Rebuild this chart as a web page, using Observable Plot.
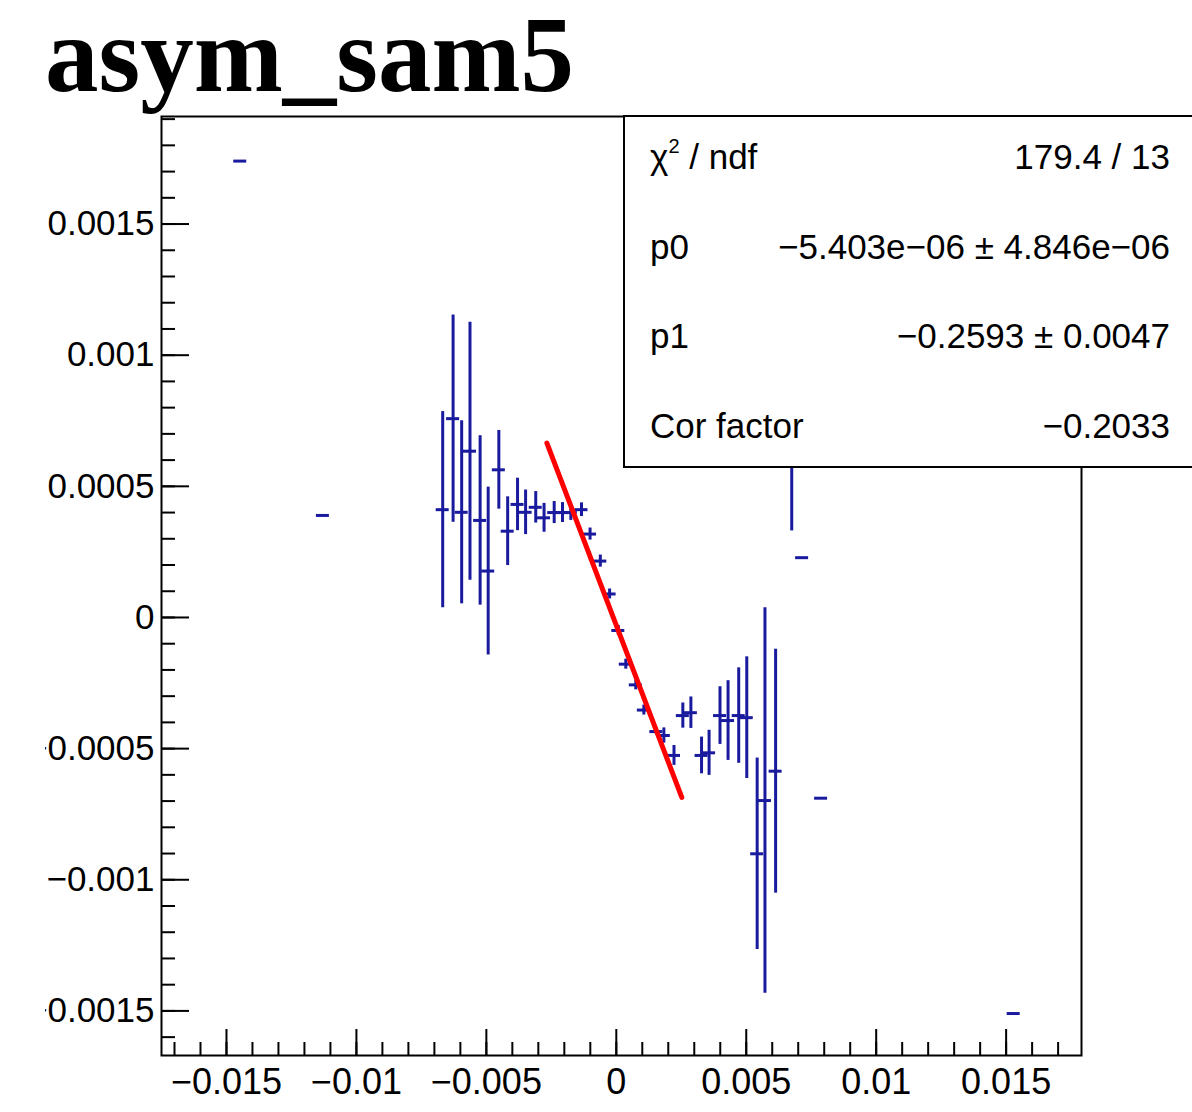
<!DOCTYPE html>
<html><head><meta charset="utf-8">
<script src="https://cdn.jsdelivr.net/npm/d3@7"></script>
<script src="https://cdn.jsdelivr.net/npm/@observablehq/plot@0.6"></script>
<style>
html,body{margin:0;padding:0;background:#fff;}
#wrap{position:relative;width:1192px;height:1112px;overflow:hidden;background:#fff;}
#title{position:absolute;left:45px;top:2px;font-family:"Liberation Serif","Times New Roman",serif;font-weight:bold;font-size:107px;line-height:107px;white-space:nowrap;color:#000;}
#chart{position:absolute;left:45px;top:0;}
#stats{position:absolute;left:623px;top:115px;width:620px;height:349px;border:2px solid #000;background:#fff;font-family:"Liberation Sans",Arial,sans-serif;font-size:35px;color:#000;}
.row{position:absolute;left:25px;width:520px;height:88px;display:flex;justify-content:space-between;align-items:center;white-space:nowrap;}
sup{font-size:20px;vertical-align:top;position:relative;top:-2px;}
</style>
</head><body>
<div id="wrap">
  <div id="chart"></div>
  <div id="title"></div>
  <div id="stats"></div>
</div>
<script>
// ---- data ----
const titleText = "asym_sam5";
const xVals = [-0.01447, -0.01129, -0.00668, -0.00628, -0.00595, -0.00563, -0.00524, -0.00493, -0.00452, -0.00418,
  -0.0038, -0.00349, -0.0031, -0.00278, -0.00239, -0.00207, -0.00175, -0.00134, -0.00101, -0.000615,
  -0.000258, 0.000077, 0.000365, 0.00075, 0.00106, 0.00154, 0.00183, 0.00222, 0.00256, 0.00287,
  0.00328, 0.00357, 0.00399, 0.0043, 0.00471, 0.00502, 0.00542, 0.00572, 0.00613, 0.00675,
  0.00715, 0.00788, 0.01529];
const yVals = [0.00174, 0.000389, 0.000411, 0.000758, 0.000401, 0.000634, 0.00037, 0.000177, 0.000563, 0.000329,
  0.000431, 0.000401, 0.00042, 0.00038, 0.0004, 0.0004, 0.0004, 0.000411, 0.000318, 0.000215,
  0.0000896, -0.0000496, -0.000178, -0.000257, -0.000353, -0.000435, -0.00045, -0.000526, -0.000374, -0.000363,
  -0.000526, -0.000516, -0.000374, -0.000393, -0.000374, -0.000382, -0.000901, -0.000698, -0.000586, 0.00072,
  0.000228, -0.000689, -0.00151];
const yErrs = [0, 0, 0.000374, 0.000395, 0.000349, 0.000492, 0.000323, 0.00032, 0.00015, 0.000131,
  0.0001, 0.000085, 0.00006, 0.000055, 0.000042, 0.000038, 0.00003, 0.000026, 0.000023, 0.000023,
  0.000019, 0.000019, 0.000019, 0.000019, 0.000019, 0.000011, 0.000029, 0.000038, 0.000048, 0.00006,
  0.00007, 0.000086, 0.00011, 0.000152, 0.000182, 0.000232, 0.000365, 0.000735, 0.000465, 0.00039,
  0, 0, 0];
const xErr = 0.00025;
const fitX = [-0.00267, 0.00252];
const fitY = [0.000665, -0.000686];
const xTickLabels = [-0.015, -0.01, -0.005, 0, 0.005, 0.01, 0.015];
const yTickLabels = [-0.0015, -0.001, -0.0005, 0, 0.0005, 0.001, 0.0015];
const xMinorTicks = d3.range(-17, 18).map(i => i / 1000);
const yMinorTicks = d3.range(-16, 20).map(i => i / 10000);
const statLabels = ["χ<sup>2</sup> / ndf", "p0", "p1", "Cor factor"];
const statValues = ["179.4 / 13", "−5.403e−06 ± 4.846e−06", "−0.2593 ± 0.0047", "−0.2033"];

// ---- build ----
const pts = xVals.map((x, i) => ({x, y: yVals[i], ey: yErrs[i]}));
const fit = fitX.map((x, i) => ({x, y: fitY[i]}));
const fmt = v => v === 0 ? "0" : (v < 0 ? "−" : "") + String(Math.abs(v));
const blue = "#1a1a9e";

const plot = Plot.plot({
  width: 1147, height: 1112,
  marginLeft: 116, marginRight: 111, marginTop: 116, marginBottom: 57,
  x: {domain: [-0.0175, 0.0179], label: null},
  y: {domain: [-0.00167, 0.00191], label: null},
  style: {background: "white", fontFamily: "'Liberation Sans', Arial, sans-serif", fontSize: "35px", color: "black"},
  marks: [
    Plot.axisX(xMinorTicks, {anchor: "bottom", tickSize: -13, tickFormat: () => "", strokeWidth: 2, label: null}),
    Plot.axisX(xTickLabels, {anchor: "bottom", tickSize: -26, tickFormat: () => "", strokeWidth: 2, label: null}),
    Plot.axisX(xTickLabels, {anchor: "bottom", tickSize: 0, tickPadding: 13, tickFormat: fmt, fontSize: 36, label: null}),
    Plot.axisY(yMinorTicks, {anchor: "left", tickSize: -14, tickFormat: () => "", strokeWidth: 2, label: null}),
    Plot.axisY(yTickLabels, {anchor: "left", tickSize: -28, tickFormat: () => "", strokeWidth: 2, label: null}),
    Plot.axisY(yTickLabels, {anchor: "left", tickSize: 0, tickPadding: 7, tickFormat: fmt, fontSize: 35, label: null}),
    Plot.ruleX(pts.filter(d => d.ey > 0), {x: "x", y1: d => d.y - d.ey, y2: d => d.y + d.ey, stroke: blue, strokeWidth: 3}),
    Plot.ruleY(pts, {y: "y", x1: d => d.x - xErr, x2: d => d.x + xErr, stroke: blue, strokeWidth: 3}),
    Plot.line(fit, {x: "x", y: "y", stroke: "#ff0000", strokeWidth: 5}),
    Plot.frame({stroke: "black", strokeWidth: 2})
  ]
});
document.getElementById("chart").appendChild(plot);
document.getElementById("title").textContent = titleText;
const stats = document.getElementById("stats");
statLabels.forEach((lab, i) => {
  const row = document.createElement("div");
  row.className = "row";
  row.style.top = (-4 + i * 89.7) + "px";
  row.innerHTML = `<span>${lab}</span><span>${statValues[i]}</span>`;
  stats.appendChild(row);
});
</script>
</body></html>
